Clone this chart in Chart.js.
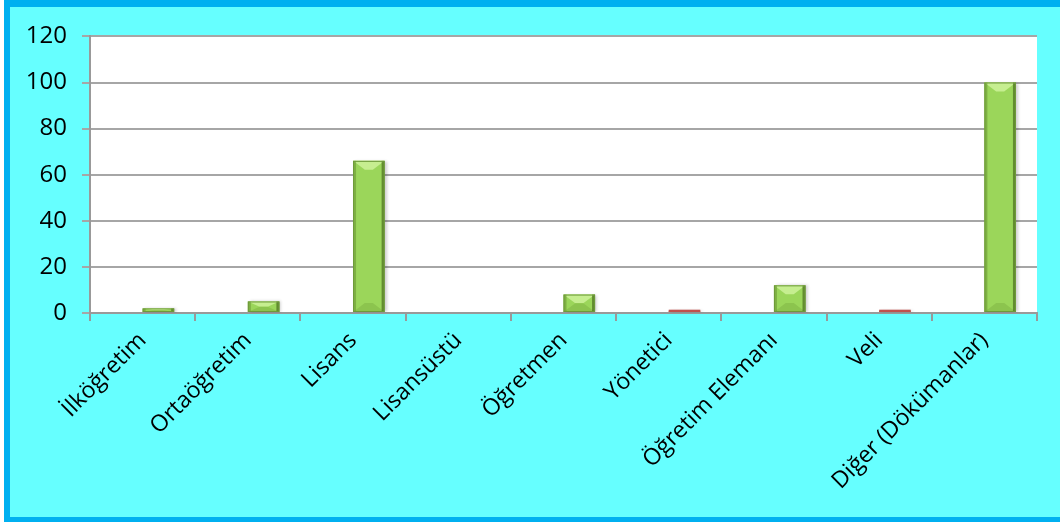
<!DOCTYPE html>
<html>
<head>
<meta charset="utf-8">
<script src="https://cdn.jsdelivr.net/npm/chart.js@4.4.1/dist/chart.umd.min.js"></script>
<style>
    body { margin: 0; background: #ffffff; }
    #frame {
        position: absolute; left: 4px; top: 0;
        width: 1050px; height: 510px;
        border-left: 6px solid #00B0F0;
        border-top: 7px solid #00B0F0;
        border-bottom: 5px solid #00B0F0;
        background: #66FFFF;
    }
    #chart { display: block; }
</style>
</head>
<body>
<div id="frame"><canvas id="chart" width="1050" height="510"></canvas></div>
<script>
const categories = ['İlköğretim', 'Ortaöğretim', 'Lisans', 'Lisansüstü', 'Öğretmen', 'Yönetici', 'Öğretim Elemanı', 'Veli', 'Diğer (Dökümanlar)'];
const emptySeries = [null, null, null, null, null, null, null, null, null]; // first series is empty in the original
const counts = [2, 5, 66, 0, 8, 1, 12, 1, 100];
const barColors = ['#9BD65A', '#9BD65A', '#9BD65A', '#9BD65A', '#9BD65A', '#C0504D', '#9BD65A', '#C0504D', '#9BD65A'];
const yTicks = [0, 20, 40, 60, 80, 100, 120];

const FONT = '"Open Sans", "Liberation Sans", sans-serif';

// white plot area
const plotBg = {
    id: 'plotBg',
    beforeDraw(chart) {
        const a = chart.chartArea, ctx = chart.ctx;
        ctx.save();
        ctx.fillStyle = '#ffffff';
        ctx.fillRect(a.left, a.top, a.right - a.left, a.bottom - a.top);
        ctx.restore();
    }
};

// light bevel on top, darker edges, like the excel 3d style
const bevelPlugin = {
    id: 'bevel',
    beforeDatasetDraw(chart, args) {
        if (args.index !== 1) return;
        const ctx = chart.ctx;
        ctx.save();
        ctx.shadowColor = 'rgba(0,0,0,0.2)';
        ctx.shadowBlur = 3;
        ctx.shadowOffsetX = 2;
        ctx.shadowOffsetY = 0;
    },
    afterDatasetDraw(chart, args) {
        if (args.index !== 1) return;
        const ctx = chart.ctx;
        ctx.restore();
        const meta = chart.getDatasetMeta(1);
        meta.data.forEach((bar, i) => {
            const h = bar.base - bar.y;
            const l = bar.x - bar.width / 2, r = bar.x + bar.width / 2;
            ctx.save();
            if (barColors[i] !== '#9BD65A') {
                // thin red bars, redraw flat without shadow
                ctx.fillStyle = barColors[i];
                ctx.fillRect(l, bar.y - 1, bar.width, h + 1);
                ctx.restore();
                return;
            }
            if (h < 3) { ctx.restore(); return; }
            const d = Math.min(9, h / 2);
            // top bevel
            ctx.fillStyle = '#C6EE90';
            ctx.beginPath();
            ctx.moveTo(l, bar.y); ctx.lineTo(r, bar.y);
            ctx.lineTo(bar.x + 4, bar.y + d); ctx.lineTo(bar.x - 4, bar.y + d);
            ctx.closePath(); ctx.fill();
            // bottom bevel
            ctx.fillStyle = '#8CC44E';
            ctx.beginPath();
            ctx.moveTo(l, bar.base); ctx.lineTo(r, bar.base);
            ctx.lineTo(bar.x + 4, bar.base - d); ctx.lineTo(bar.x - 4, bar.base - d);
            ctx.closePath(); ctx.fill();
            // side edges
            ctx.fillStyle = 'rgba(90,130,40,0.45)';
            ctx.fillRect(l, bar.y, 3, h);
            ctx.fillStyle = 'rgba(60,90,20,0.6)';
            ctx.fillRect(r - 3, bar.y, 3, h);
            ctx.strokeStyle = '#6E9A3A';
            ctx.lineWidth = 1;
            ctx.strokeRect(l + 0.5, bar.y + 0.5, bar.width - 1, h - 1);
            ctx.restore();
        });
    }
};

new Chart(document.getElementById('chart'), {
    type: 'bar',
    data: {
        labels: categories,
        datasets: [
            { label: 'Seri 1', data: emptySeries, backgroundColor: '#4F81BD' },
            { label: 'Seri 2', data: counts, backgroundColor: barColors, borderWidth: 0 }
        ]
    },
    options: {
        responsive: false,
        animation: false,
        events: [],
        categoryPercentage: 0.6,
        barPercentage: 1,
        layout: { padding: { top: 25, right: 23, left: 0, bottom: 0 } },
        plugins: {
            legend: { display: false },
            tooltip: { enabled: false }
        },
        scales: {
            x: {
                afterFit: s => { s.height = 204; },
                grid: { drawOnChartArea: false, drawTicks: true, tickLength: 8, color: '#999999', lineWidth: 2 },
                border: { color: '#999999', width: 2 },
                ticks: {
                    color: '#000000', font: { family: FONT, size: 23 },
                    minRotation: 45, maxRotation: 45, padding: 6, autoSkip: false
                }
            },
            y: {
                min: 0, max: 120,
                afterFit: s => { s.width = 80; },
                afterBuildTicks: s => { s.ticks = yTicks.map(v => ({ value: v })); },
                grid: { color: '#A6A6A6', lineWidth: 2, tickLength: 8 },
                border: { color: '#999999', width: 2 },
                ticks: { color: '#000000', font: { family: FONT, size: 24 }, padding: 15 }
            }
        }
    },
    plugins: [plotBg, bevelPlugin]
});
</script>
</body>
</html>
